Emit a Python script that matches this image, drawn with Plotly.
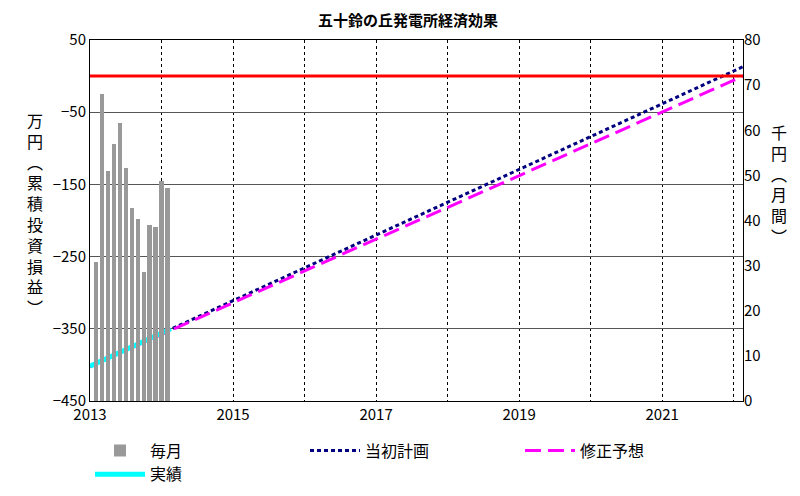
import plotly.graph_objects as go

# monthly values (千円), Feb 2013 - Feb 2014
bar_x = [2013 + m / 12 for m in range(1, 14)]
bar_y = [30.8, 68.0, 51.0, 57.0, 61.6, 51.6, 42.8, 40.3, 28.5, 39.0, 38.6, 48.8, 47.1]

plan_x = [2013.0, 2022.13]
plan_y = [-402, 13]
rev_x = [2013.0, 2022.13]
rev_y = [-402, 0]
act_x = [2013.0, 2014.13]
act_y = [-402, -350]

years = list(range(2013, 2023))
year_labels = [str(y) if (y - 2013) % 2 == 0 else "" for y in years]

FONT = "Noto Sans CJK JP"

fig = go.Figure()
fig.add_trace(go.Bar(x=bar_x, y=bar_y, name="毎月", yaxis="y2",
                     marker=dict(color="#999999", line=dict(width=0)), width=0.06))
fig.add_trace(go.Scatter(x=plan_x, y=plan_y, mode="lines", name="当初計画",
                         line=dict(color="#000080", width=3, dash="4px,3px")))
fig.add_trace(go.Scatter(x=rev_x, y=rev_y, mode="lines", name="修正予想",
                         line=dict(color="#ff00ff", width=3, dash="16px,7px")))
fig.add_trace(go.Scatter(x=act_x, y=act_y, mode="lines", name="実績",
                         line=dict(color="#00ffff", width=5)))
fig.add_hline(y=0, line_color="red", line_width=3)

fig.update_layout(
    width=800, height=496,
    margin=dict(l=82, r=65, t=32, b=77),
    plot_bgcolor="white", paper_bgcolor="white",
    font=dict(family=FONT, size=15, color="black"),
    title=dict(text="<b>五十鈴の丘発電所経済効果</b>", x=0.5, y=0.985, yanchor="top",
               font=dict(size=15)),
    xaxis=dict(range=[2013, 2022.13], tickvals=years, ticktext=year_labels,
               showgrid=True, gridcolor="black", griddash="dot", gridwidth=1,
               showline=True, linecolor="black", mirror=True, ticks="",
               zeroline=False, automargin=False),
    yaxis=dict(range=[-450, 50], tickvals=[50, -50, -150, -250, -350, -450],
               showgrid=True, gridcolor="#555555", gridwidth=1,
               showline=True, linecolor="black", mirror=True, zeroline=False,
               automargin=False),
    yaxis2=dict(range=[0, 80], dtick=10, overlaying="y", side="right",
                showgrid=False, zeroline=False, automargin=False),
    bargap=0,
    legend=dict(orientation="h", x=0.0, xanchor="left", y=-0.09, yanchor="top",
                font=dict(size=16), entrywidth=150, itemwidth=50),
    showlegend=True,
)
fig.add_annotation(text="<br>".join("万円︵累積投資損益︶"), xref="paper", yref="paper",
                   x=-0.1, y=0.52, showarrow=False, font=dict(size=16), align="center")
fig.add_annotation(text="<br>".join("千円︵月間︶"), xref="paper", yref="paper",
                   x=1.07, y=0.6, showarrow=False, font=dict(size=16), align="center")

fig.write_html("out.html")
